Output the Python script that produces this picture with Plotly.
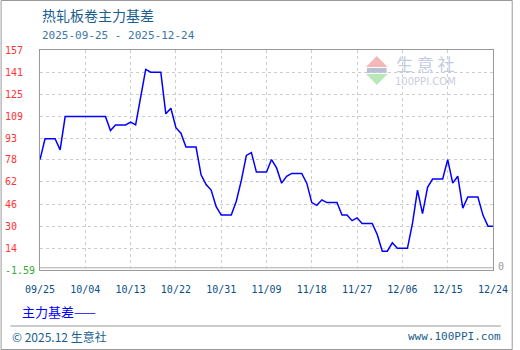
import pandas as pd
import plotly.graph_objects as go

# ---- data ----
start_date = "2025-09-25"
end_date = "2025-12-24"
basis_values = [
    78, 93, 93, 93, 85, 109, 109, 109, 109, 109,
    109, 109, 109, 109, 99, 103, 103, 103, 105, 103,
    123, 143, 141, 141, 141, 111, 115, 101, 97, 87,
    87, 87, 67, 60, 56, 44, 38, 38, 38, 48,
    63, 81, 83, 69, 69, 69, 78, 72, 61, 66,
    68, 68, 68, 61, 47, 45, 49, 47, 47, 47,
    38, 38, 34, 36, 32, 32, 32, 24, 12, 12,
    18, 14, 14, 14, 32, 56, 39, 58, 64, 64,
    64, 78, 61, 66, 43, 51, 51, 51, 38, 30, 30,
]
xtick_labels = ["09/25", "10/04", "10/13", "10/22", "10/31", "11/09",
                "11/18", "11/27", "12/06", "12/15", "12/24"]
ytick_vals = [-1.59, 14.27, 30.13, 45.99, 61.85, 77.71, 93.56, 109.42, 125.28, 141.14, 157]
ytick_labels = ["-1.59", "14", "30", "46", "62", "78", "93", "109", "125", "141", "157"]
series_name = "主力基差"
title_text = "热轧板卷主力基差"
subtitle_text = "2025-09-25 - 2025-12-24"

dates = pd.date_range(start_date, end_date, freq="D")
xtick_vals = list(dates[::9])

W, H = 520, 350
L, R, T, B = 40, 20, 50, 80
PW, PH = W - L - R, H - T - B


def px(x):
    return (x - L) / PW


def py(y):
    return (H - B - y) / PH


fig = go.Figure()
fig.add_trace(go.Scatter(
    x=dates, y=basis_values, mode="lines", name=series_name,
    line=dict(color="#0000ff", width=1.5), hoverinfo="skip",
))

mono = "DejaVu Sans Mono"
cjk = "Noto Sans CJK SC"

annotations = []
for v, t in zip(ytick_vals, ytick_labels):
    annotations.append(dict(
        x=px(4), xref="paper", y=v, yref="y", text=t, showarrow=False,
        xanchor="left", yanchor="middle", xshift=-2,
        font=dict(family=mono, size=10, color="#33aa33" if t.startswith("-") else "#ff3333"),
    ))
annotations += [
    dict(x=px(40), xref="paper", y=py(15), yref="paper", text=title_text, showarrow=False,
         xanchor="left", yanchor="middle", font=dict(family=cjk, size=14, color="#1a5e8e")),
    dict(x=px(40), xref="paper", y=py(35), yref="paper", text=subtitle_text, showarrow=False,
         xanchor="left", yanchor="middle", font=dict(family=mono, size=11, color="#3a76a8")),
    dict(x=px(20), xref="paper", y=py(311), yref="paper", text=series_name + "——", showarrow=False,
         xanchor="left", yanchor="middle", font=dict(family=cjk, size=13, color="#0000ff")),
    dict(x=px(10), xref="paper", y=py(336), yref="paper", text="© 2025.12 生意社", showarrow=False,
         xanchor="left", yanchor="middle", font=dict(family=cjk, size=12, color="#1a5e8e")),
    dict(x=px(510), xref="paper", y=py(336), yref="paper", text="www.100PPI.com", showarrow=False,
         xanchor="right", yanchor="middle", font=dict(family=mono, size=11, color="#1a5e8e")),
    dict(x=px(503), xref="paper", y=py(266), yref="paper", text="0", showarrow=False,
         xanchor="left", yanchor="middle", font=dict(family=mono, size=10, color="#999999")),
    dict(x=px(431), xref="paper", y=py(64), yref="paper", text="生 意 社", showarrow=False,
         xanchor="center", yanchor="middle", font=dict(family=cjk, size=17, color="#c4cce0")),
    dict(x=px(431), xref="paper", y=py(81), yref="paper", text="100PPI.COM", showarrow=False,
         xanchor="center", yanchor="middle", font=dict(family="DejaVu Sans", size=10, color="#c8cde0")),
]

shapes = [
    # outer frame
    dict(type="rect", xref="paper", yref="paper", x0=px(0.5), x1=px(519.5), y0=py(349.5), y1=py(0.5),
         line=dict(color="#999999", width=1), layer="below"),
    # footer separator
    dict(type="line", xref="paper", yref="paper", x0=px(10), x1=px(508), y0=py(326), y1=py(326),
         line=dict(color="#999999", width=1)),
    # line near zero
    dict(type="line", xref="paper", yref="y", x0=0, x1=1, y0=0, y1=0,
         line=dict(color="#aaaaaa", width=1), layer="below"),
    # watermark logo
    dict(type="path", xref="paper", yref="paper",
         path=f"M {px(382)} {py(56)} L {px(371)} {py(67)} L {px(393)} {py(67)} Z",
         fillcolor="#f5b8b8", line=dict(width=0), layer="below"),
    dict(type="rect", xref="paper", yref="paper", x0=px(372), x1=px(392), y0=py(73), y1=py(68),
         fillcolor="#b9c0d6", line=dict(width=0), layer="below"),
    dict(type="path", xref="paper", yref="paper",
         path=f"M {px(371)} {py(74)} L {px(393)} {py(74)} L {px(382)} {py(85)} Z",
         fillcolor="#b8e8b8", line=dict(width=0), layer="below"),
]

fig.update_layout(
    width=W, height=H, margin=dict(l=L, r=R, t=T, b=B),
    paper_bgcolor="white", plot_bgcolor="white", showlegend=False,
    annotations=annotations, shapes=shapes,
    xaxis=dict(
        type="date", range=[dates[0], dates[-1]],
        tickvals=xtick_vals, ticktext=xtick_labels,
        showgrid=True, gridcolor="#cccccc", griddash="3px,3px", gridwidth=1,
        showline=True, linecolor="#999999", linewidth=1, mirror=True,
        ticks="", ticklabelstandoff=10,
        tickfont=dict(family=mono, size=10, color="#0b4f86"),
        fixedrange=True, zeroline=False,
    ),
    yaxis=dict(
        range=[ytick_vals[0], ytick_vals[-1]],
        tickvals=ytick_vals, showticklabels=False,
        showgrid=True, gridcolor="#cccccc", griddash="3px,3px", gridwidth=1,
        showline=True, linecolor="#999999", linewidth=1, mirror=True,
        ticks="", zeroline=False, fixedrange=True,
    ),
)

fig.write_html("out.html")
